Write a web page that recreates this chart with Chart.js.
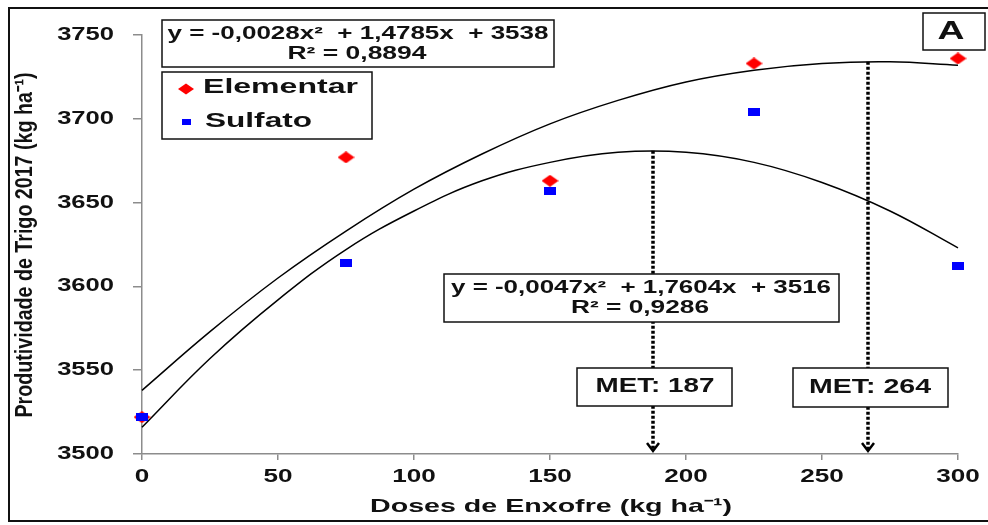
<!DOCTYPE html>
<html>
<head>
<meta charset="utf-8">
<script src="https://cdn.jsdelivr.net/npm/chart.js@4"></script>
<style>
  body { margin: 0; background: #fff; }
  #wrap { width: 988px; height: 525px; }
</style>
</head>
<body>
<div id="wrap"><canvas id="chart" width="988" height="525"></canvas></div>
<script>
// Data
const doses = [0, 75, 150, 225, 300];
const elementar = [3522, 3677, 3663, 3733, 3736];
const sulfato = [3522, 3614, 3657, 3704, 3612];

// trend curves
const curveDoses = [0, 25, 50, 75, 100, 125, 150, 175, 200, 225, 250, 275, 300];
const elementarFit = [3538, 3573, 3605, 3633, 3658, 3679, 3697, 3711, 3722, 3729, 3733, 3734, 3732];
const sulfatoFit = [3516, 3557, 3592, 3622, 3645, 3663, 3674, 3680, 3680, 3674, 3662, 3645, 3623];

const xTicks = [0, 50, 100, 150, 200, 250, 300];
const yTicks = [3500, 3550, 3600, 3650, 3700, 3750];

// MET arrows: dose where drawn, top of the dotted line, label
const metDoses = [188, 267];
const metTops = [3681, 3734];
const metLabels = ['MET: 187', 'MET: 264'];

const eqElementar = ['y = -0,0028x²  + 1,4785x  + 3538', 'R² = 0,8894'];
const eqSulfato = ['y = -0,0047x²  + 1,7604x  + 3516', 'R² = 0,9286'];

const FONT = '"Liberation Sans", Arial, sans-serif';

function makeMarker(w, h, color, diamond) {
    const c = document.createElement('canvas');
    c.width = w; c.height = h;
    const g = c.getContext('2d');
    g.fillStyle = color;
    if (diamond) {
        g.beginPath();
        g.moveTo(w / 2, 0); g.lineTo(w, h / 2); g.lineTo(w / 2, h); g.lineTo(0, h / 2);
        g.closePath(); g.fill();
    } else {
        g.fillRect(0, 0, w, h);
    }
    return c;
}

const redDiamond = makeMarker(17, 12, '#ff0000', true);
const blueSquare = makeMarker(12, 8, '#0000ff', false);

// text stretched to a given width (the original is wider than normal Arial)
function wideText(ctx, text, x, y, size, width, align) {
    ctx.save();
    ctx.font = 'bold ' + size + 'px ' + FONT;
    const sx = width / ctx.measureText(text).width;
    ctx.translate(x, y);
    ctx.scale(sx, 1);
    ctx.textAlign = align || 'center';
    ctx.textBaseline = 'middle';
    ctx.fillText(text, 0, 0);
    ctx.restore();
}

function scaledText(ctx, text, x, y, size, sx, align) {
    ctx.save();
    ctx.font = 'bold ' + size + 'px ' + FONT;
    ctx.translate(x, y);
    ctx.scale(sx, 1);
    ctx.textAlign = align || 'center';
    ctx.textBaseline = 'middle';
    ctx.fillText(text, 0, 0);
    ctx.restore();
}

function box(ctx, x, y, w, h) {
    ctx.save();
    ctx.fillStyle = '#fff';
    ctx.fillRect(x, y, w, h);
    ctx.strokeStyle = '#111';
    ctx.lineWidth = 1.5;
    ctx.strokeRect(x, y, w, h);
    ctx.restore();
}

const extras = {
    id: 'extras',
    beforeDraw(chart) {
        const ctx = chart.ctx;
        ctx.save();
        ctx.fillStyle = '#fff';
        ctx.fillRect(0, 0, chart.width, chart.height);
        ctx.restore();
    },
    afterDraw(chart) {
        const ctx = chart.ctx;
        const xs = chart.scales.x, ys = chart.scales.y;
        const base = ys.getPixelForValue(3500);

        // dotted MET arrows
        ctx.save();
        ctx.strokeStyle = '#000';
        metDoses.forEach((d, i) => {
            const px = Math.round(xs.getPixelForValue(d));
            ctx.lineWidth = 3.5;
            ctx.setLineDash([3, 2]);
            ctx.beginPath();
            ctx.moveTo(px, ys.getPixelForValue(metTops[i]));
            ctx.lineTo(px, base - 4);
            ctx.stroke();
            ctx.setLineDash([]);
            ctx.lineWidth = 2.5;
            ctx.beginPath();
            ctx.moveTo(px - 6, base - 11);
            ctx.lineTo(px, base - 3);
            ctx.lineTo(px + 6, base - 11);
            ctx.stroke();
        });
        ctx.restore();

        ctx.fillStyle = '#111';

        // tick labels
        yTicks.forEach(v => {
            scaledText(ctx, String(v), 114, ys.getPixelForValue(v), 18, 1.42, 'right');
        });
        xTicks.forEach(v => {
            scaledText(ctx, String(v), xs.getPixelForValue(v), 477, 18, 1.45, 'center');
        });

        // axis titles
        wideText(ctx, 'Doses de Enxofre (kg ha⁻¹)', 551, 507, 19, 362);
        ctx.save();
        ctx.translate(26, 245);
        ctx.rotate(-Math.PI / 2);
        ctx.font = 'bold 18px ' + FONT;
        const yTitle = 'Produtividade de Trigo 2017 (kg ha⁻¹)';
        ctx.scale(345 / ctx.measureText(yTitle).width, 1.3);
        ctx.textAlign = 'center';
        ctx.textBaseline = 'middle';
        ctx.fillText(yTitle, 0, 0);
        ctx.restore();

        // equation boxes
        box(ctx, 162, 20, 392, 47);
        wideText(ctx, eqElementar[0], 358, 34, 18, 381);
        wideText(ctx, eqElementar[1], 357, 54, 18, 139);

        box(ctx, 444, 274, 395, 48);
        wideText(ctx, eqSulfato[0], 641, 288, 18, 380);
        wideText(ctx, eqSulfato[1], 640, 308, 18, 138);

        // legend
        box(ctx, 162, 72, 210, 67);
        ctx.fillStyle = '#ff0000';
        ctx.beginPath();
        ctx.moveTo(186, 83.5); ctx.lineTo(194, 89); ctx.lineTo(186, 94.5); ctx.lineTo(178, 89);
        ctx.closePath(); ctx.fill();
        ctx.fillStyle = '#0000ff';
        ctx.fillRect(182, 119, 9, 6);
        ctx.fillStyle = '#111';
        wideText(ctx, 'Elementar', 203, 87, 21, 155, 'left');
        wideText(ctx, 'Sulfato', 205, 121, 21, 107, 'left');

        // MET labels
        box(ctx, 577, 368, 155, 38);
        wideText(ctx, metLabels[0], 655, 386, 20, 119);
        box(ctx, 793, 368, 155, 39);
        wideText(ctx, metLabels[1], 870, 387, 20, 122);

        // panel letter
        box(ctx, 923, 13, 62, 37);
        ctx.fillStyle = '#111';
        wideText(ctx, 'A', 951, 32, 25, 27);

        // outer frame
        ctx.save();
        ctx.strokeStyle = '#111';
        ctx.lineWidth = 2;
        ctx.strokeRect(9, 8, 995, 513);
        ctx.restore();
    }
};

const toPoints = (xsArr, ysArr) => xsArr.map((x, i) => ({ x: x, y: ysArr[i] }));

new Chart(document.getElementById('chart'), {
    type: 'scatter',
    data: {
        datasets: [
            {
                label: 'Sulfato',
                data: toPoints(doses, sulfato),
                pointStyle: blueSquare,
                clip: false,
                order: 0
            },
            {
                label: 'Elementar',
                data: toPoints(doses, elementar),
                pointStyle: redDiamond,
                clip: false,
                order: 1
            },
            {
                label: 'Elementar fit',
                data: toPoints(curveDoses, elementarFit),
                showLine: true,
                borderColor: '#000',
                borderWidth: 1.5,
                pointRadius: 0,
                tension: 0.4,
                clip: false,
                order: 2
            },
            {
                label: 'Sulfato fit',
                data: toPoints(curveDoses, sulfatoFit),
                showLine: true,
                borderColor: '#000',
                borderWidth: 1.5,
                pointRadius: 0,
                tension: 0.4,
                clip: false,
                order: 2
            }
        ]
    },
    options: {
        responsive: false,
        devicePixelRatio: 1,
        animation: false,
        layout: { padding: { left: 0, top: 35, right: 30, bottom: 0 } },
        plugins: {
            legend: { display: false },
            tooltip: { enabled: false }
        },
        scales: {
            x: {
                type: 'linear',
                min: 0,
                max: 300,
                ticks: { stepSize: 50, color: 'transparent', font: { size: 12 }, maxRotation: 0 },
                grid: { drawOnChartArea: false, color: '#8c8c8c', lineWidth: 1.5, tickLength: 6 },
                border: { color: '#8c8c8c', width: 1.5 },
                afterFit(scale) { scale.height = 71; }
            },
            y: {
                min: 3500,
                max: 3750,
                ticks: { stepSize: 50, color: 'transparent', font: { size: 12 } },
                grid: { drawOnChartArea: false, color: '#8c8c8c', lineWidth: 1.5, tickLength: 9 },
                border: { color: '#8c8c8c', width: 1.5 },
                afterFit(scale) { scale.width = 142; }
            }
        }
    },
    plugins: [extras]
});
</script>
</body>
</html>
